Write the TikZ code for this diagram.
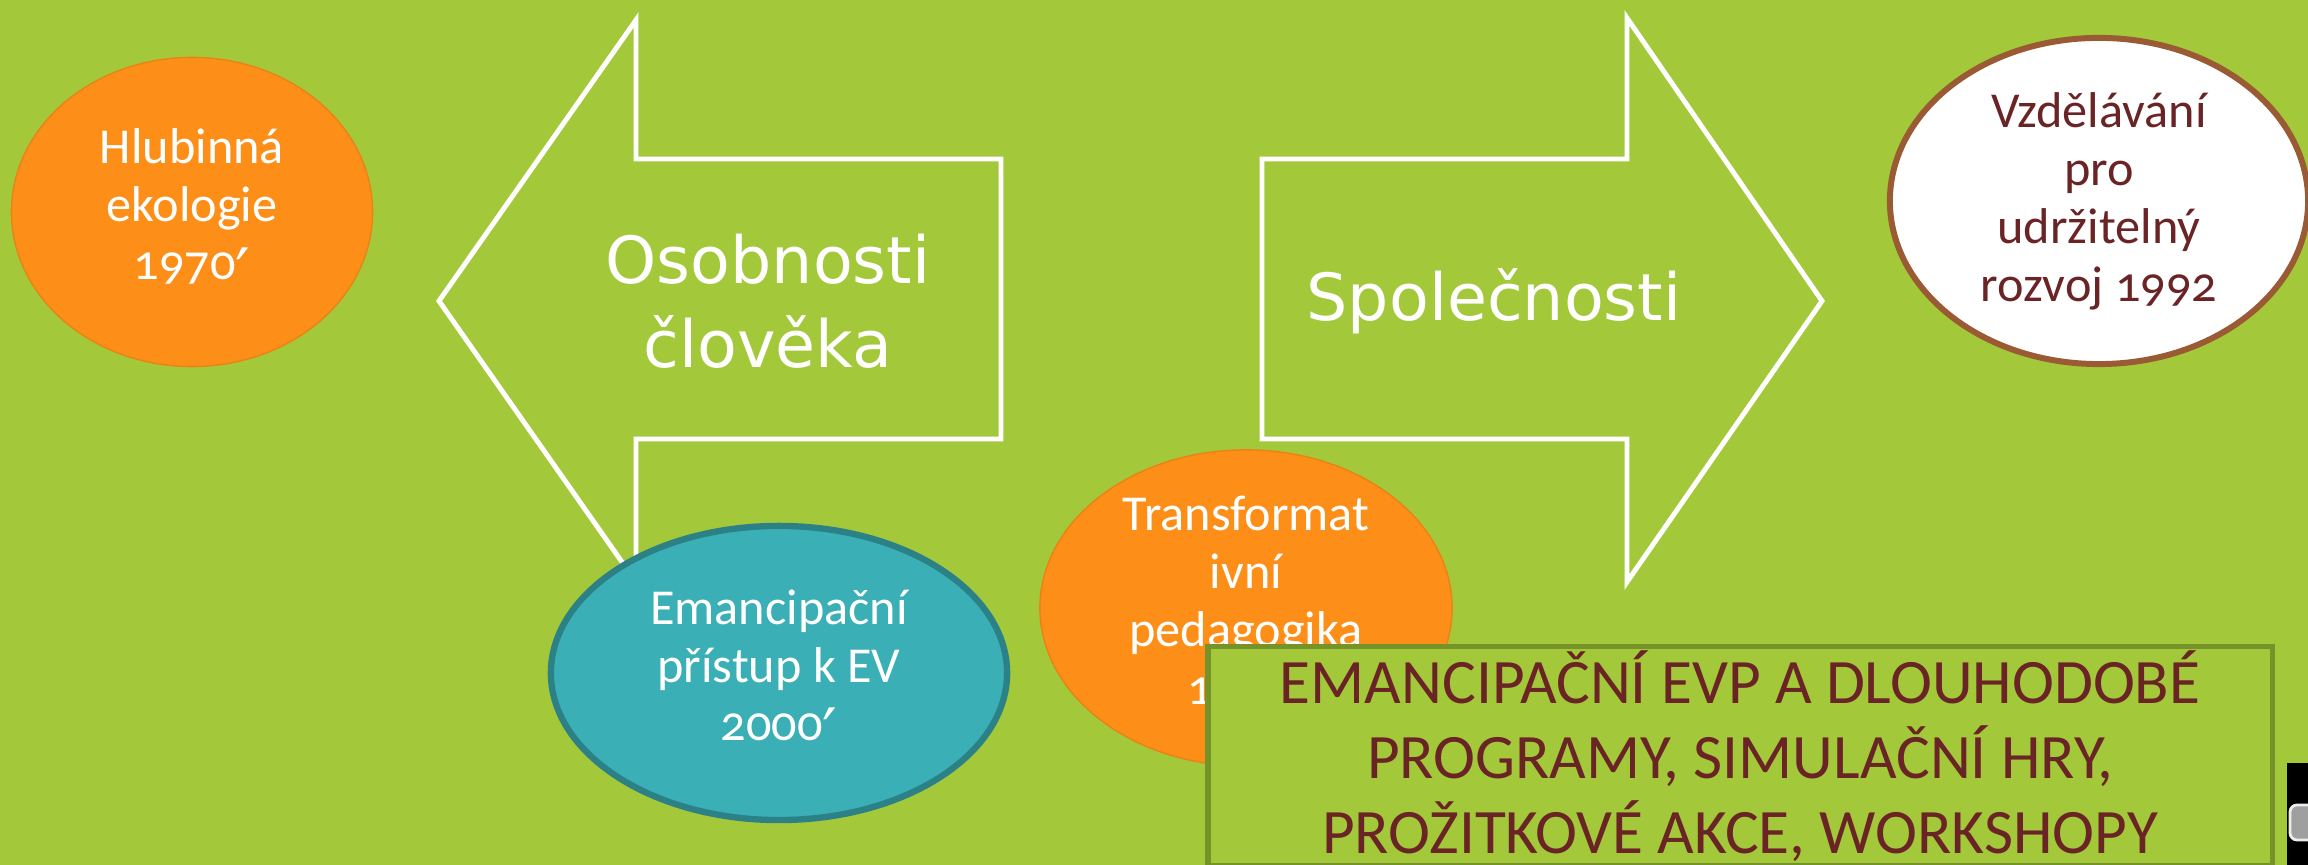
\documentclass[tikz,border=0pt]{standalone}
\usepackage{fontspec}
\setmainfont{Carlito}
\newfontfamily\arrowfont{DejaVu Sans}
\newfontfamily\ovalfont[Numbers=OldStyle]{Carlito}
\newcommand{\pr}{\raisebox{-0.3em}{\scalebox{1.3}{\arrowfont ′}}}
\usetikzlibrary{shapes.geometric}
\definecolor{slidegreen}{HTML}{A3C93A}
\definecolor{boxgreen}{HTML}{76932A}
\definecolor{ovalorange}{HTML}{FD8E17}
\definecolor{ovalteal}{HTML}{3AAFB6}
\definecolor{tealedge}{HTML}{2B8186}
\definecolor{brownedge}{HTML}{9A5A34}
\definecolor{maroon}{HTML}{6A2426}
\tikzset{
  oval/.style={
    shape = ellipse,
    inner sep = 0pt,
    align = center,
    font = \ovalfont\fontsize{14.3}{16.5}\selectfont
  },
  orangeoval/.style={
    oval,
    fill = ovalorange,
    draw = ovalorange!92!black,
    line width = 0.4pt,
    text = white
  },
  tealoval/.style={
    oval,
    fill = ovalteal,
    draw = tealedge,
    line width = 1.8pt,
    text = white
  },
  whiteoval/.style={
    oval,
    fill = white,
    draw = brownedge,
    line width = 1.7pt,
    text = maroon
  },
  bigarrow/.style={
    draw = white,
    line width = 1.4pt,
    miter limit = 20
  },
  arrowtext/.style={
    align = center,
    text = white,
    inner sep = 0pt,
    font = \arrowfont\fontsize{18.5}{24}\selectfont
  },
  bigbox/.style={
    shape = rectangle,
    draw = boxgreen,
    fill = slidegreen,
    line width = 1.6pt,
    align = center,
    text = maroon,
    inner sep = 0pt,
    font = \fontsize{18}{21.3}\selectfont
  }
}

\begin{document}
\begin{tikzpicture}[x=0.01cm, y=-0.01cm]
    \def\shtop{159}
    \def\shbot{439}
    \def\mid{301}
    \fill[slidegreen] (0,0) rectangle (2308,865);
    \useasboundingbox (0,0) rectangle (2308,865);
    % left arrow
    \draw[bigarrow] (1001,\shtop) -- (636,\shtop) -- (636,20) -- (439,\mid)
        -- (636,582) -- (636,\shbot) -- (1001,\shbot) -- cycle;
    \node[arrowtext] (osob) at (768,\mid) {Osobnosti\\člověka};
    % right arrow
    \draw[bigarrow] (1262,\shtop) -- (1627,\shtop) -- (1627,18) -- (1822,\mid)
        -- (1627,582) -- (1627,\shbot) -- (1262,\shbot) -- cycle;
    \node[arrowtext] (spol) at (1494,\mid) {Společnosti};
    % ovals
    \node[orangeoval, minimum width=3.61cm, minimum height=3.09cm] (hlub)
        at (192,212) {Hlubinná\\ekologie\\1970\pr};
    \node[whiteoval, minimum width=4.18cm, minimum height=3.26cm] (vzdel)
        at (2099,201) {Vzdělávání\\pro\\udržitelný\\rozvoj 1992};
    \node[tealoval, minimum width=4.56cm, minimum height=2.94cm] (eman)
        at (779,673) {Emancipační\\přístup k EV\\2000\pr};
    \node[orangeoval, minimum width=4.12cm, minimum height=3.08cm] (trans)
        at (1246,608) {Transformat\\ivní\\pedagogika\\1990\pr};
    % box
    \node[bigbox, minimum width=10.64cm, minimum height=2.19cm] (evp)
        at (1740,756) {EMANCIPAČNÍ EVP A DLOUHODOBÉ\\PROGRAMY, SIMULAČNÍ HRY,\\PROŽITKOVÉ AKCE, WORKSHOPY};
    % corner widget
    \fill[black] (2287,763) rectangle (2320,870);
    \draw[fill=gray!75, draw=white!85!gray, line width=0.8pt, rounded corners=2pt]
        (2290,805) rectangle (2330,840);
\end{tikzpicture}
\end{document}
